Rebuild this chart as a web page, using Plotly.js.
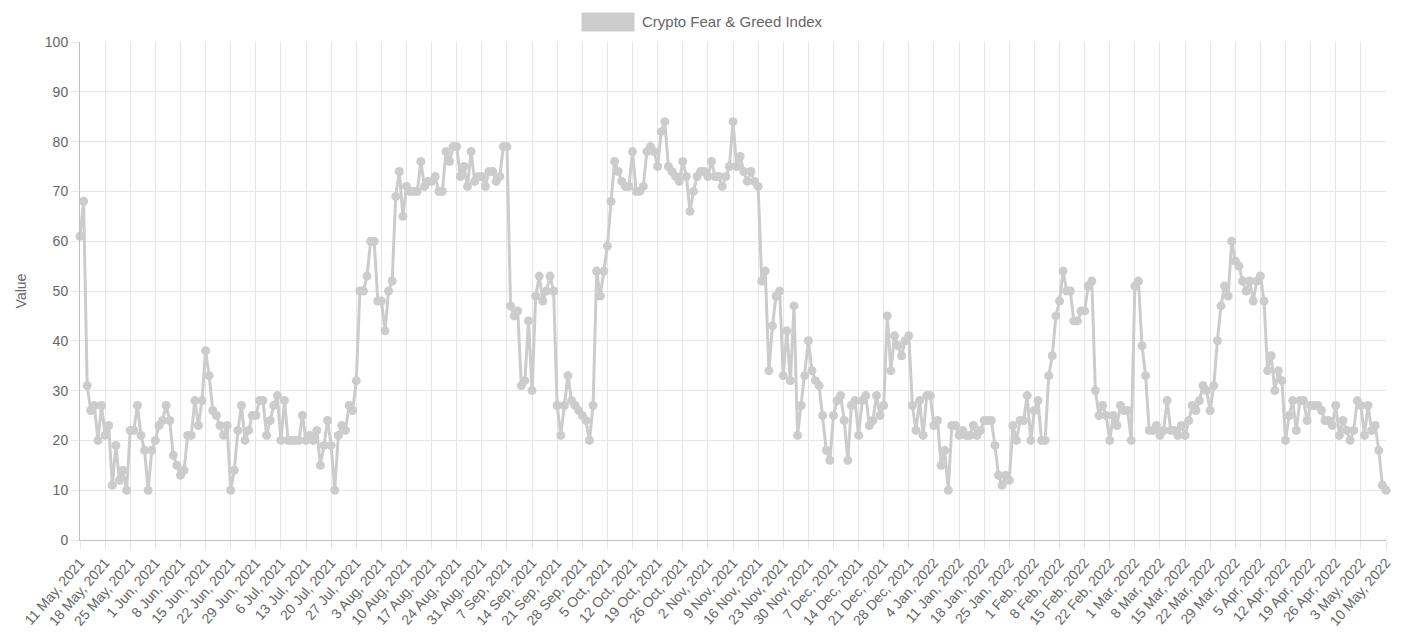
<!DOCTYPE html>
<html>
<head>
<meta charset="utf-8">
<script src="https://cdn.plot.ly/plotly-3.0.1.min.js"></script>
<style>
  html, body { margin: 0; padding: 0; background: #fff; }
  #chart { width: 1402px; height: 642px; }
</style>
</head>
<body>
<div id="chart"></div>
<script>
const seriesName = "Crypto Fear & Greed Index";
const startDate = "2021-05-11";
const endDate = "2022-05-10";
const values = [
  61,68,31,26,27,20,27,21,23,11,19,12,14,10,22,22,27,21,18,10,
  18,20,23,24,27,24,17,15,13,14,21,21,28,23,28,38,33,26,25,23,
  21,23,10,14,22,27,20,22,25,25,28,28,21,24,27,29,20,28,20,20,
  20,20,25,20,21,20,22,15,19,24,19,10,21,23,22,27,26,32,50,50,
  53,60,60,48,48,42,50,52,69,74,65,71,70,70,70,76,71,72,72,73,
  70,70,78,76,79,79,73,75,71,78,72,73,73,71,74,74,72,73,79,79,
  47,45,46,31,32,44,30,49,53,48,50,53,50,27,21,27,33,28,27,26,
  25,24,20,27,54,49,54,59,68,76,74,72,71,71,78,70,70,71,78,79,
  78,75,82,84,75,74,73,72,76,73,66,70,73,74,74,73,76,73,73,71,
  73,75,84,75,77,74,72,74,72,71,52,54,34,43,49,50,33,42,32,47,
  21,27,33,40,34,32,31,25,18,16,25,28,29,24,16,27,28,21,28,29,
  23,24,29,25,27,45,34,41,39,37,40,41,27,22,28,21,29,29,23,24,
  15,18,10,23,23,21,22,21,21,23,21,22,24,24,24,19,13,11,13,12,
  23,20,24,24,29,20,26,28,20,20,33,37,45,48,54,50,50,44,44,46,
  46,51,52,30,25,27,25,20,25,23,27,26,26,20,51,52,39,33,22,22,
  23,21,22,28,22,22,21,23,21,24,27,26,28,31,30,26,31,40,47,51,
  49,60,56,55,52,50,52,48,52,53,48,34,37,30,34,32,20,25,28,22,
  28,28,24,27,27,27,26,24,24,23,27,21,24,22,20,22,28,27,21,27,
  22,23,18,11,10
];
const yTickVals = [0,10,20,30,40,50,60,70,80,90,100];

// daily categories from the start date, one per value
const dates = [];
{
  const t0 = Date.UTC(2021, 4, 11);
  for (let i = 0; i < values.length; i++) {
    const d = new Date(t0 + i * 86400000);
    dates.push(d.toISOString().slice(0, 10));
  }
}

const lineColor = "rgb(204,204,204)";
const fontFam = "'Liberation Sans', Arial, Helvetica, sans-serif";

const trace = {
  type: "scatter",
  mode: "lines+markers",
  x: dates,
  y: values,
  name: seriesName,
  line: { color: lineColor, width: 3 },
  marker: { color: lineColor, size: 9 },
  cliponaxis: false,
  hoverinfo: "x+y",
  showlegend: false
};

// legend drawn as box + text (paper coords)
const L = 80, R = 1386, T = 42, B = 540;
const px = x => (x - L) / (R - L);
const py = y => (B - y) / (B - T);

const layout = {
  width: 1402,
  height: 642,
  margin: { l: 80, r: 16, t: 42, b: 102, pad: 0 },
  paper_bgcolor: "#ffffff",
  plot_bgcolor: "#ffffff",
  font: { family: fontFam, size: 14, color: "#666666" },
  showlegend: false,
  xaxis: {
    type: "date",
    range: [startDate, endDate],
    tick0: startDate,
    dtick: 7 * 86400000,
    tickformat: "%-d %b, %Y",
    tickangle: -49,
    tickfont: { family: fontFam, size: 14, color: "#666666" },
    showgrid: true,
    gridcolor: "#e6e6e6",
    gridwidth: 1,
    ticks: "outside",
    ticklen: 8,
    tickcolor: "#e6e6e6",
    showline: true,
    linecolor: "#bfbfbf",
    linewidth: 1,
    zeroline: false,
    fixedrange: true
  },
  yaxis: {
    range: [0, 100],
    tickvals: yTickVals,
    tickfont: { family: fontFam, size: 14, color: "#666666" },
    showgrid: true,
    gridcolor: "#e6e6e6",
    gridwidth: 1,
    ticks: "outside",
    ticklen: 8,
    tickcolor: "#e6e6e6",
    showline: true,
    linecolor: "#bfbfbf",
    linewidth: 1,
    zeroline: false,
    title: { text: "Value", font: { family: fontFam, size: 14, color: "#666666" }, standoff: 14 },
    fixedrange: true
  },
  shapes: [
    {
      type: "rect", xref: "paper", yref: "paper",
      x0: px(582), x1: px(634), y0: py(31), y1: py(13),
      fillcolor: lineColor, line: { color: lineColor, width: 1 }
    }
  ],
  annotations: [
    {
      xref: "paper", yref: "paper",
      x: px(640), y: py(22),
      xanchor: "left", yanchor: "middle",
      text: seriesName, showarrow: false,
      font: { family: fontFam, size: 15, color: "#666666" }
    }
  ]
};

Plotly.newPlot("chart", [trace], layout, { displayModeBar: false, staticPlot: true });
</script>
</body>
</html>
